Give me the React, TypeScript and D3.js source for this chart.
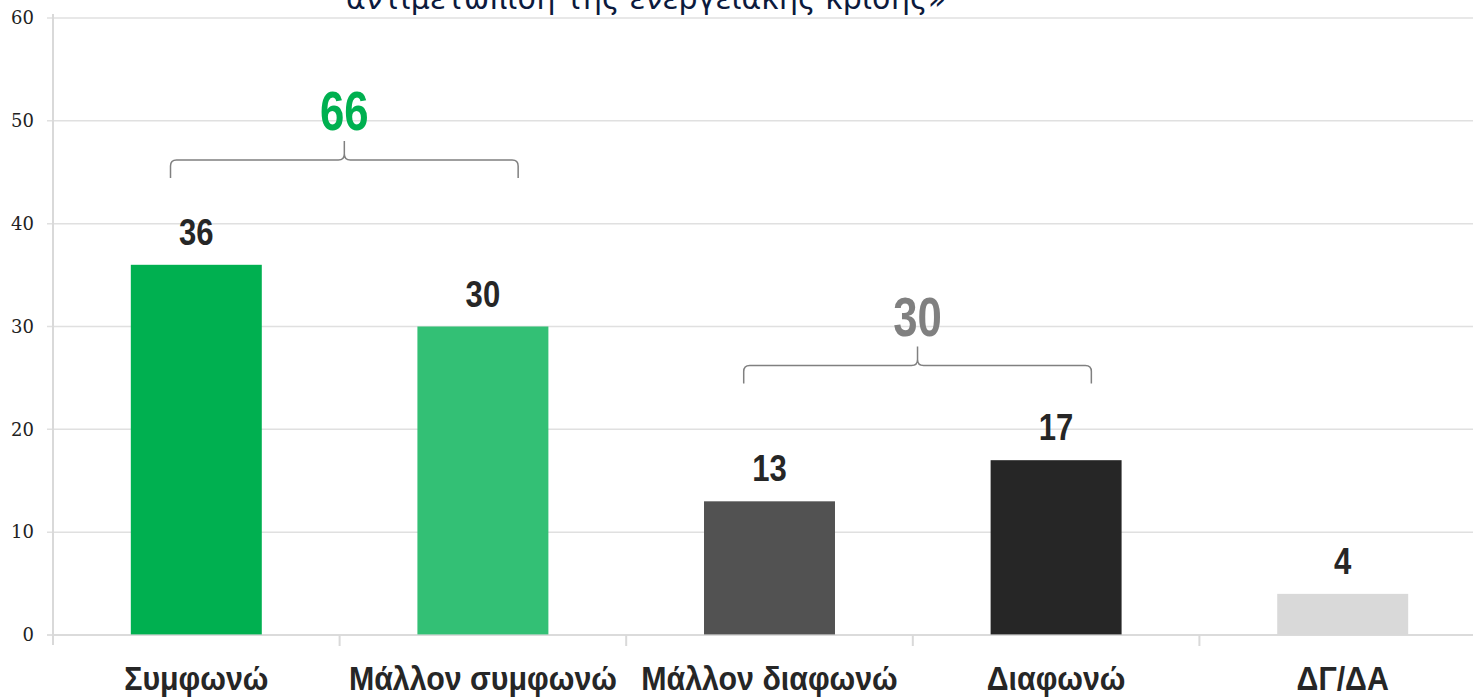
import React from "react";
import * as d3 from "d3";

const categories = ["Συμφωνώ", "Μάλλον συμφωνώ", "Μάλλον διαφωνώ", "Διαφωνώ", "ΔΓ/ΔΑ"];
const values = [36, 30, 13, 17, 4];
const barColors = ["#00b050", "#33c075", "#525252", "#262626", "#d9d9d9"];
const yTicks = [0, 10, 20, 30, 40, 50, 60];
const groupLabels = ["66", "30"];
const groupFrom = [0, 2];
const groupTo = [1, 3];
const groupLevels = [46.2, 26.2];
const groupColors = ["#00b050", "#808080"];
const titleText = "αντιμετώπιση της ενεργειακής κρίσης»";

const W = 1473;
const H = 699;

export default function App() {
  const x = d3
    .scaleBand<string>()
    .domain(categories)
    .range([53, 53 + 5 * 286.6])
    .paddingInner(0.543)
    .paddingOuter(0.2715);
  const step = x.step();
  const bandStart = (i: number) => 53 + i * step;
  const y = d3.scaleLinear().domain([0, 60]).range([635, 18]);
  const sans = "'Liberation Sans', Arial, sans-serif";

  const bracePath = (x1: number, x2: number, yh: number) => {
    const xm = (x1 + x2) / 2;
    const r = 6;
    return [
      `M${x1},${yh + 18}`,
      `L${x1},${yh + r}`,
      `Q${x1},${yh} ${x1 + r},${yh}`,
      `L${xm - r},${yh}`,
      `Q${xm},${yh} ${xm},${yh - r}`,
      `L${xm},${yh - 19}`,
      `M${xm},${yh - r}`,
      `Q${xm},${yh} ${xm + r},${yh}`,
      `L${x2 - r},${yh}`,
      `Q${x2},${yh} ${x2},${yh + r}`,
      `L${x2},${yh + 18}`,
    ].join(" ");
  };

  const cx = (c: string) => (x(c) as number) + x.bandwidth() / 2;

  return (
    <svg
      width={W}
      height={H}
      style={{ position: "absolute", left: 0, top: 0, background: "#fff" }}
    >
      <text
        x={646}
        y={9}
        textAnchor="middle"
        fontFamily="'DejaVu Sans', sans-serif"
        fontSize={30}
        fill="#0c1a3d"
      >
        {titleText}
      </text>

      {/* gridlines */}
      {yTicks.map((t) => (
        <g key={t}>
          <line x1={47} x2={W} y1={y(t)} y2={y(t)} stroke="#e0e0e0" strokeWidth={t === 0 ? 2 : 1.5} />
          <text
            x={34}
            y={y(t)}
            dy="0.35em"
            textAnchor="end"
            fontFamily="'DejaVu Serif', 'Liberation Serif', serif"
            fontSize={18}
            fill="#222"
          >
            {t}
          </text>
        </g>
      ))}
      {/* y axis line */}
      <line x1={53} x2={53} y1={y(60) - 4} y2={645} stroke="#d9d9d9" strokeWidth={2} />
      {/* x category separators */}
      {categories.map((c, i) =>
        i > 0 ? (
          <line key={c} x1={bandStart(i)} x2={bandStart(i)} y1={635} y2={646} stroke="#d9d9d9" strokeWidth={2} />
        ) : null
      )}

      {/* bars */}
      {categories.map((c, i) => (
        <rect
          key={c}
          x={x(c)}
          y={y(values[i])}
          width={x.bandwidth()}
          height={y(0) - y(values[i])}
          fill={barColors[i]}
        />
      ))}
      <line x1={53} x2={W} y1={y(0)} y2={y(0)} stroke="#d9d9d9" strokeWidth={2} opacity={0.6} />

      {/* value labels */}
      {categories.map((c, i) => (
        <text
          key={c}
          transform={`translate(${cx(c)},${y(values[i]) - 20}) scale(0.84,1)`}
          textAnchor="middle"
          fontFamily={sans}
          fontWeight="bold"
          fontSize={37}
          fill="#262626"
        >
          {values[i]}
        </text>
      ))}

      {/* category labels */}
      {categories.map((c) => (
        <text
          key={c}
          transform={`translate(${cx(c)},690) scale(0.92,1)`}
          textAnchor="middle"
          fontFamily={sans}
          fontWeight="bold"
          fontSize={33}
          fill="#262626"
        >
          {c}
        </text>
      ))}

      {/* group braces */}
      {groupLabels.map((g, k) => {
        const x1 = bandStart(groupFrom[k]) + 0.41 * step;
        const x2 = bandStart(groupTo[k]) + 0.623 * step;
        const yh = y(groupLevels[k]);
        return (
          <g key={k}>
            <path d={bracePath(x1, x2, yh)} fill="none" stroke="#808080" strokeWidth={1.5} />
            <text
              transform={`translate(${(x1 + x2) / 2},${yh - 30}) scale(0.78,1)`}
              textAnchor="middle"
              fontFamily={sans}
              fontWeight="bold"
              fontSize={56}
              fill={groupColors[k]}
            >
              {g}
            </text>
          </g>
        );
      })}
    </svg>
  );
}
